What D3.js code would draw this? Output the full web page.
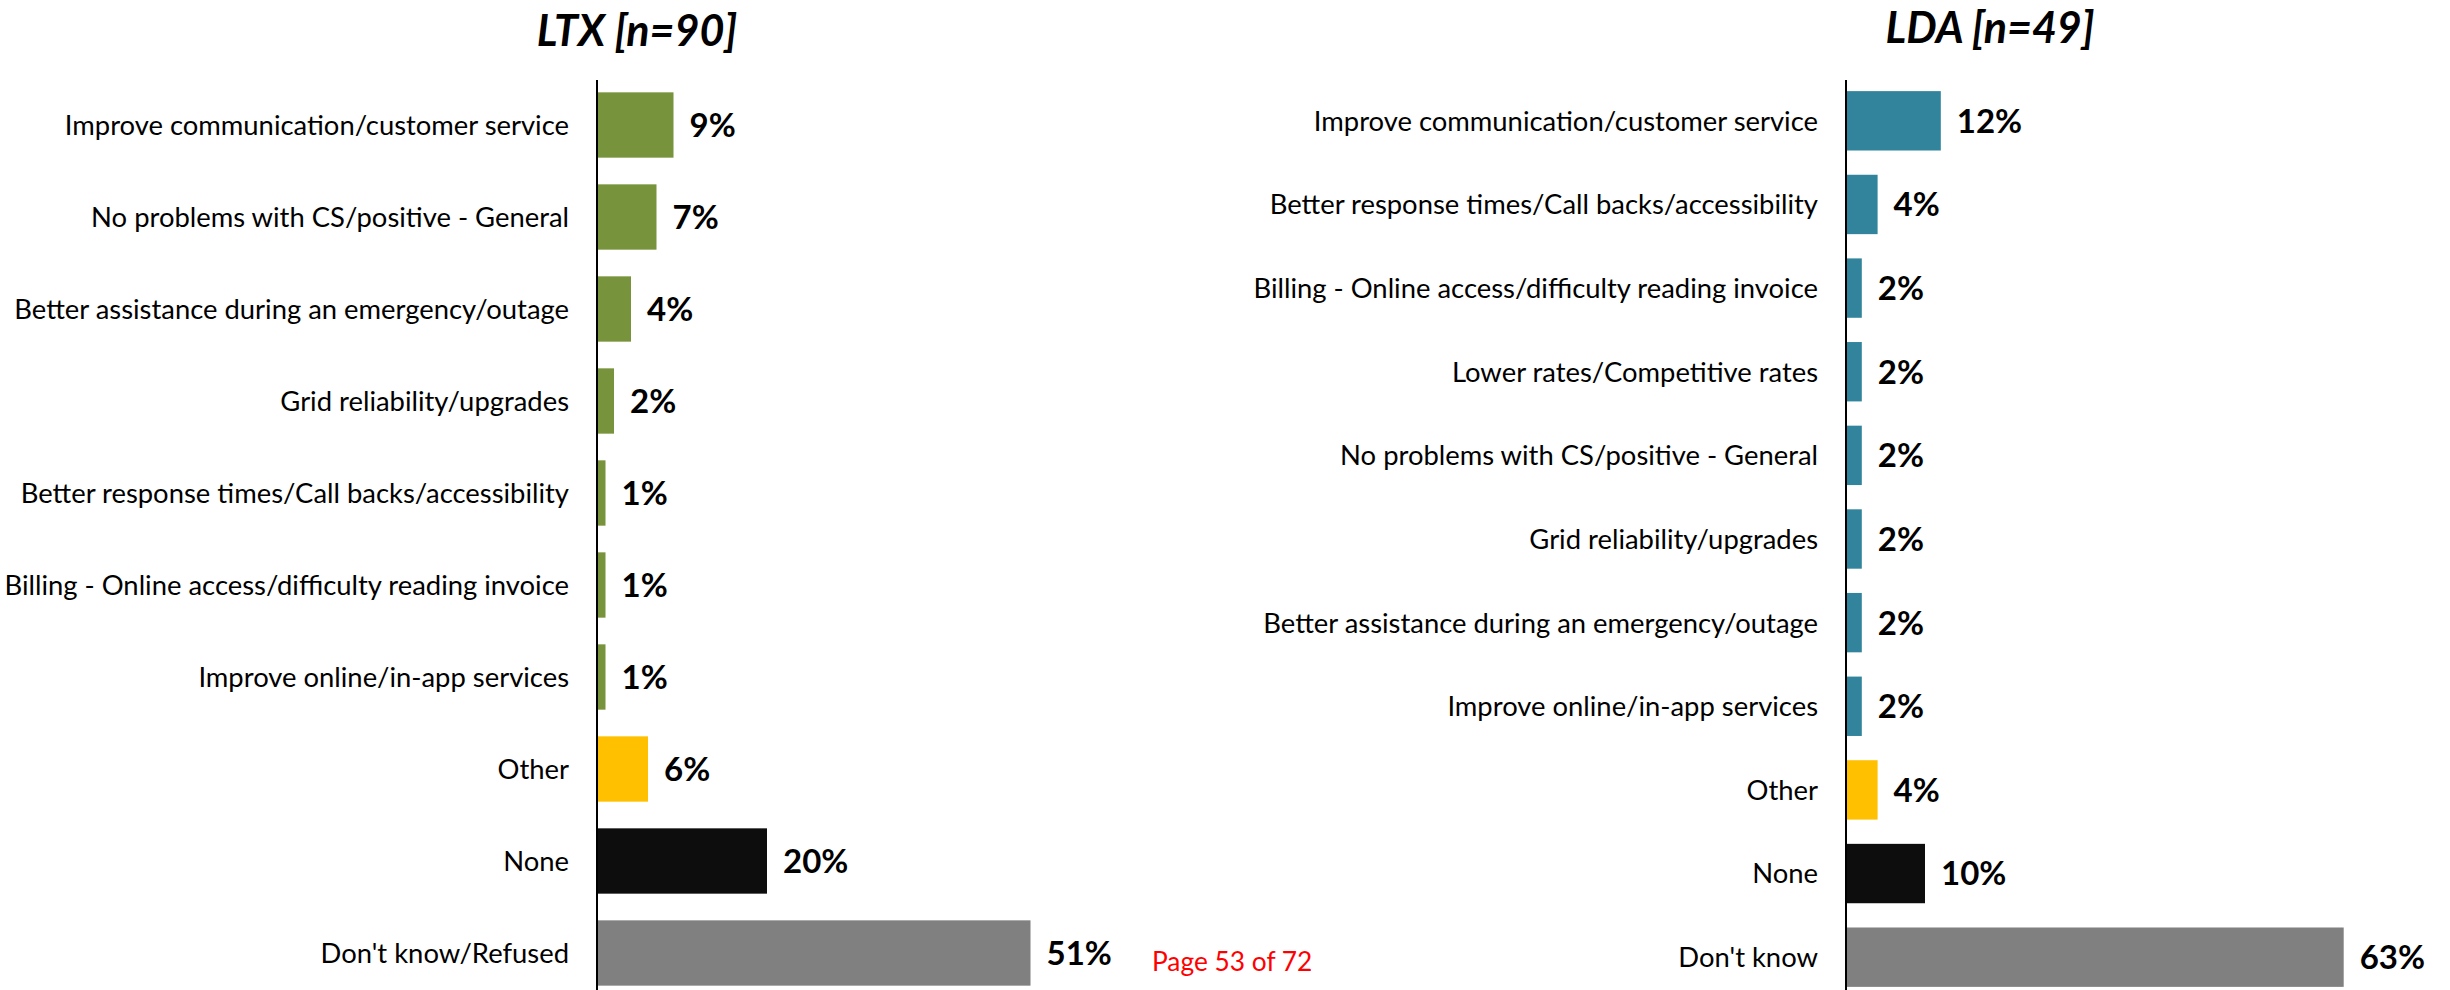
<!DOCTYPE html>
<html>
<head>
<meta charset="utf-8">
<script src="https://cdn.jsdelivr.net/npm/d3@7"></script>
<style>
  html, body { margin: 0; padding: 0; background: #ffffff; }
  svg { display: block; }
  text { font-family: Lato, "Open Sans", sans-serif; }
</style>
</head>
<body>
<svg id="chart" width="2450" height="990"></svg>
<script>
// ---- LTX panel ----
const ltxTitle = "LTX [n=90]";
const ltxCategories = [
  "Improve communication/customer service",
  "No problems with CS/positive - General",
  "Better assistance during an emergency/outage",
  "Grid reliability/upgrades",
  "Better response times/Call backs/accessibility",
  "Billing - Online access/difficulty reading invoice",
  "Improve online/in-app services",
  "Other",
  "None",
  "Don't know/Refused"
];
const ltxValues = [9, 7, 4, 2, 1, 1, 1, 6, 20, 51];
const ltxKinds = ["main", "main", "main", "main", "main", "main", "main", "other", "none", "dk"];

// ---- LDA panel ----
const ldaTitle = "LDA [n=49]";
const ldaCategories = [
  "Improve communication/customer service",
  "Better response times/Call backs/accessibility",
  "Billing - Online access/difficulty reading invoice",
  "Lower rates/Competitive rates",
  "No problems with CS/positive - General",
  "Grid reliability/upgrades",
  "Better assistance during an emergency/outage",
  "Improve online/in-app services",
  "Other",
  "None",
  "Don't know"
];
const ldaValues = [12, 4, 2, 2, 2, 2, 2, 2, 4, 10, 63];
const ldaKinds = ["main", "main", "main", "main", "main", "main", "main", "main", "other", "none", "dk"];

const footerText = "Page 53 of 72";

const svg = d3.select("#chart");

function drawPanel(cfg) {
  const data = cfg.categories.map((c, i) => ({ cat: c, value: cfg.values[i], kind: cfg.kinds[i] }));

  const y = d3.scaleBand()
    .domain(cfg.categories)
    .range([79, 999])
    .paddingInner(0.29)
    .paddingOuter(0.145);

  const x = d3.scaleLinear()
    .domain([0, 100])
    .range([cfg.axisX, cfg.axisX + cfg.pxPer100]);

  const colors = { main: cfg.mainColor, other: "#FFC000", none: "#0D0D0D", dk: "#808080" };

  const g = svg.append("g");

  // bars
  g.selectAll("rect.bar")
    .data(data)
    .join("rect")
    .attr("class", "bar")
    .attr("x", x(0))
    .attr("y", d => y(d.cat))
    .attr("width", d => x(d.value) - x(0))
    .attr("height", y.bandwidth())
    .attr("fill", d => colors[d.kind]);

  // category labels (left of the axis)
  const yAxis = d3.axisLeft(y).tickSize(0).tickPadding(28);
  const axisG = g.append("g")
    .attr("transform", `translate(${cfg.axisX},0)`)
    .call(yAxis);
  axisG.select(".domain").remove();
  axisG.selectAll("text")
    .attr("font-family", "Lato, sans-serif")
    .attr("font-size", 27.4)
    .attr("fill", "#000")
    .attr("dy", "0.36em");

  // vertical axis line
  g.append("line")
    .attr("x1", cfg.axisX).attr("x2", cfg.axisX)
    .attr("y1", 80).attr("y2", 1000)
    .attr("stroke", "#000")
    .attr("stroke-width", 2);

  // value labels
  g.selectAll("text.val")
    .data(data)
    .join("text")
    .attr("class", "val")
    .attr("x", d => x(d.value) + 16)
    .attr("y", d => y(d.cat) + y.bandwidth() / 2)
    .attr("dy", "0.36em")
    .attr("font-size", 33)
    .attr("font-weight", 700)
    .attr("fill", "#000")
    .text(d => d.value + "%");

  // panel title
  g.append("text")
    .attr("x", cfg.titleX)
    .attr("y", cfg.titleY)
    .attr("text-anchor", "middle")
    .attr("font-size", 43)
    .attr("font-weight", 700)
    .attr("font-style", "italic")
    .attr("fill", "#000")
    .text(cfg.title);
}

drawPanel({
  title: ltxTitle, categories: ltxCategories, values: ltxValues, kinds: ltxKinds,
  axisX: 597, pxPer100: 850, mainColor: "#77933C", titleX: 637, titleY: 46
});

drawPanel({
  title: ldaTitle, categories: ldaCategories, values: ldaValues, kinds: ldaKinds,
  axisX: 1846, pxPer100: 790, mainColor: "#31849B", titleX: 1990, titleY: 43
});

// page footer
svg.append("text")
  .attr("x", 1152)
  .attr("y", 971)
  .attr("font-size", 26.3)
  .attr("fill", "#FF0000")
  .text(footerText);
</script>
</body>
</html>
